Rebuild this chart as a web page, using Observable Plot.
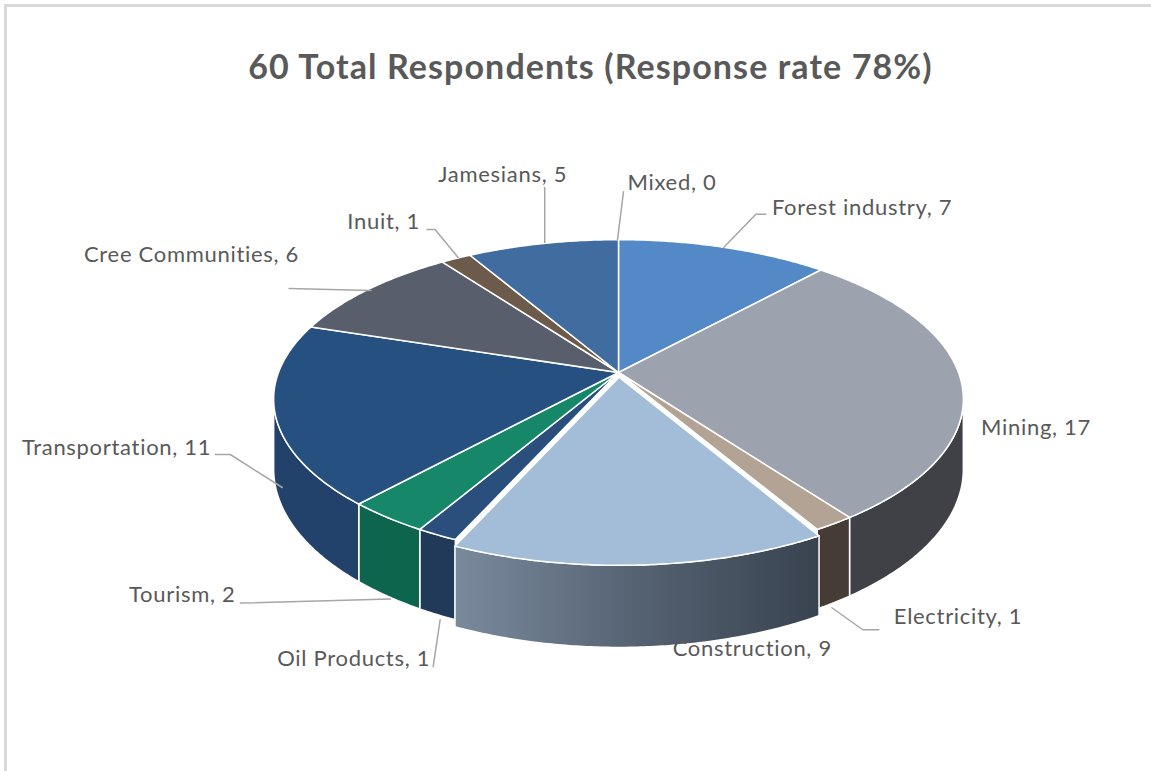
<!DOCTYPE html>
<html>
<head>
<meta charset="utf-8">
<script src="https://cdn.jsdelivr.net/npm/d3@7"></script>
<script src="https://cdn.jsdelivr.net/npm/@observablehq/plot@0.6"></script>
<style>
  html, body { margin: 0; padding: 0; background: #fff; }
  body { width: 1151px; height: 771px; position: relative; overflow: hidden; font-family: Lato, "Open Sans", sans-serif; }
  #frame { position: absolute; left: 4px; top: 4px; width: 1147px; height: 767px; border-top: 3px solid #D9D9D9; border-left: 3px solid #D9D9D9; box-sizing: border-box; pointer-events: none; }
  #title { height: 110px; box-sizing: border-box; padding-top: 46px; padding-left: 30px; text-align: center; font-weight: bold; font-size: 34px; letter-spacing: 1.1px; line-height: 40px; color: #595959; white-space: nowrap; }
  #chart { display: block; }
</style>
</head>
<body>
<div id="frame"></div>
<div id="title">60 Total Respondents (Response rate 78%)</div>
<div id="chart"></div>
<script>
// ---- data ----
const categories = ["Forest industry", "Mining", "Electricity", "Construction", "Oil Products", "Tourism", "Transportation", "Cree Communities", "Inuit", "Jamesians", "Mixed"];
const values = [7, 17, 1, 9, 1, 2, 11, 6, 1, 5, 0];
const topColors = ["#5489C7", "#9DA3AE", "#B2A395", "#A3BCD7", "#2B4F7D", "#168769", "#26507F", "#585E6B", "#6C5A4A", "#406C9F", "#5B9BD5"];
const sideColors = ["#3E6495", "#3F4147", "#453D35", "url(#constructionSide)", "#213A5A", "#0E654E", "#22426C", "#41454F", "#4F4236", "#2F5075", "#44729F"];
const explodedSlices = ["Construction"];

// ---- layout (styles / positions, not data) ----
const W = 1151, H = 661, OFF = 110;
const geom = {cx: 618, cy: 372 - OFF, rx: 340, ry: 155, k: 0.167, depth: 68, explode: 0.03};
// label offsets relative to each slice's leader anchor point
const labelLayout = {
  "Forest industry":  {dx: 48, dy: -39, anchor: "start", leader: [[0,0],[32,-33],[42,-33]]},
  "Mining":           {dx: 20, dy: 47, anchor: "start", leader: null},
  "Electricity":      {dx: 60, dy: 14, anchor: "start", leader: [[-2,5],[29,27],[45,27]]},
  "Construction":     {dx: 32, dy: 2, anchor: "start", leader: null},
  "Oil Products":     {dx: -7, dy: 44, anchor: "end", leader: [[3,5],[-4,52]]},
  "Tourism":          {dx: -152, dy: -1, anchor: "end", leader: [[3,3],[-147,7]]},
  "Transportation":   {dx: -64, dy: -38, anchor: "end", leader: [[7,2],[-45,-31],[-60,-31]]},
  "Cree Communities": {dx: -69, dy: -35, anchor: "end", leader: [[3,1],[-79,-1]]},
  "Inuit":            {dx: -36, dy: -37, anchor: "end", leader: [[2,-1],[-21,-29],[-29,-29]]},
  "Jamesians":        {dx: -40, dy: -69, anchor: "middle", leader: [[2,-1],[2,-56]]},
  "Mixed":            {dx: 9, dy: -57, anchor: "start", leader: [[-1,0],[5,-48]]}
};

function project(px, pu, level) {
  const s = 1 / (1 - geom.k * pu);
  return [geom.cx + geom.rx * px * s, geom.cy + (geom.ry * pu + level * geom.depth) * s];
}

const rows = categories.map((c, i) => ({category: c, value: values[i], top: topColors[i], side: sideColors[i]}));
const arcs = d3.pie().sort(null).value(d => d.value)(rows);
const thetaR = Math.acos(-geom.k);          // silhouette angle on the right
const thetaL = 2 * Math.PI - thetaR;        // silhouette angle on the left

const topPts = [], sidePts = [], topPtsEx = [], sidePtsEx = [], labels = [], leaders = [];
for (const a of arcs) {
  const d = a.data;
  const mid = (a.startAngle + a.endAngle) / 2;
  const isEx = explodedSlices.includes(d.category);
  const ex = isEx ? geom.explode * Math.sin(mid) : 0;
  const eu = isEx ? -geom.explode * Math.cos(mid) : 0;
  const pt = (t, level) => project(ex + Math.sin(t), eu - Math.cos(t), level);
  const samples = (t0, t1) => {
    const n = Math.max(2, Math.ceil((t1 - t0) / (Math.PI / 360)));
    return d3.range(n + 1).map(j => t0 + (t1 - t0) * j / n);
  };
  if (d.value > 0) {
    const tp = isEx ? topPtsEx : topPts;
    const [ax, ay] = project(ex, eu, 0);
    tp.push({id: d.category, x: ax, y: ay, fill: d.top});
    for (const t of samples(a.startAngle, a.endAngle)) {
      const [x, y] = pt(t, 0);
      tp.push({id: d.category, x, y, fill: d.top});
    }
    const t0 = Math.max(a.startAngle, thetaR), t1 = Math.min(a.endAngle, thetaL);
    if (t0 < t1) {
      const sp = isEx ? sidePtsEx : sidePts;
      const ts = samples(t0, t1);
      for (const t of ts) { const [x, y] = pt(t, 0); sp.push({id: d.category, x, y, fill: d.side}); }
      for (const t of ts.slice().reverse()) { const [x, y] = pt(t, 1); sp.push({id: d.category, x, y, fill: d.side}); }
    }
  }
  // leader anchor: front slices -> bottom edge of side; back slices -> top rim
  const frontSide = mid > thetaR && mid < thetaL;
  const [lx, ly] = pt(mid, frontSide ? 1 : 0);
  const L = labelLayout[d.category];
  labels.push({text: `${d.category}, ${d.value}`, x: lx + L.dx, y: ly + L.dy, anchor: L.anchor});
  if (L.leader) L.leader.forEach(([dx, dy]) => leaders.push({id: d.category, x: lx + dx, y: ly + dy}));
}

const common = {x: "x", y: "y", z: "id", fill: "fill", stroke: "white", strokeWidth: 1.5, strokeLinejoin: "round", curve: "linear-closed"};
const textStyle = {fill: "#595959", fontSize: 22, fontFamily: "Lato, 'Open Sans', sans-serif"};

const plot = Plot.plot({
  width: W, height: H,
  margin: 0,
  x: {domain: [0, W], range: [0, W], axis: null},
  y: {domain: [0, H], range: [0, H], axis: null},
  color: {type: "identity"},
  style: {background: "transparent", overflow: "visible"},
  marks: [
    Plot.line(sidePts, common),
    Plot.line(sidePtsEx, common),
    Plot.line(topPts, common),
    Plot.line(topPtsEx, common),
    Plot.line(leaders, {x: "x", y: "y", z: "id", stroke: "#A6A6A6", strokeWidth: 1.5}),
    Plot.text(labels.filter(d => d.anchor === "start"), {x: "x", y: "y", text: "text", textAnchor: "start", ...textStyle}),
    Plot.text(labels.filter(d => d.anchor === "end"), {x: "x", y: "y", text: "text", textAnchor: "end", ...textStyle}),
    Plot.text(labels.filter(d => d.anchor === "middle"), {x: "x", y: "y", text: "text", textAnchor: "middle", ...textStyle})
  ]
});

// gradient used by the exploded Construction side
const defs = document.createElementNS("http://www.w3.org/2000/svg", "defs");
defs.innerHTML = `<linearGradient id="constructionSide" x1="0" y1="0" x2="1" y2="0">
  <stop offset="0" stop-color="#7A8A9D"/><stop offset="0.5" stop-color="#556272"/><stop offset="1" stop-color="#394350"/></linearGradient>`;
plot.insertBefore(defs, plot.firstChild);
plot.querySelectorAll("text").forEach(t => t.setAttribute("letter-spacing", "0.7"));
document.getElementById("chart").appendChild(plot);
</script>
</body>
</html>
